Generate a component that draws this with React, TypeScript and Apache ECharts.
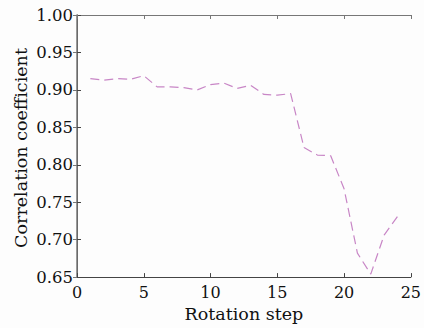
import React, { useEffect, useRef } from "react";
import * as echarts from "echarts";

const steps = [1, 2, 3, 4, 5, 6, 7, 8, 9, 10, 11, 12, 13, 14, 15, 16, 17, 18, 19, 20, 21, 22, 23, 24];
const corr = [0.915, 0.913, 0.915, 0.914, 0.919, 0.904, 0.904, 0.903, 0.9, 0.907, 0.909, 0.902, 0.906, 0.894, 0.893, 0.895, 0.823, 0.813, 0.812, 0.768, 0.682, 0.654, 0.706, 0.731];
const xName = "Rotation step";
const yName = "Correlation coefficient";

const FONT = "DejaVu Serif";

export default function App() {
  const ref = useRef<HTMLDivElement>(null);
  useEffect(() => {
    const chart = echarts.init(ref.current!, null, { renderer: "svg" });
    const data = steps.map((s, i) => [s, corr[i]]);
    chart.setOption({
      animation: false,
      backgroundColor: "#fdfdfd",
      grid: { left: 77, right: 12, top: 15, bottom: 49 },
      graphic: [
        {
          type: "text",
          x: 21,
          y: 148,
          rotation: Math.PI / 2,
          style: {
            text: yName,
            fontFamily: FONT,
            fontSize: 17.5,
            fill: "#111",
            align: "center",
            verticalAlign: "middle",
          },
        },
      ],
      xAxis: [
        {
          type: "value",
          min: 0,
          max: 25,
          interval: 5,
          name: xName,
          nameLocation: "middle",
          nameGap: 26,
          nameTextStyle: { fontFamily: FONT, fontSize: 17.5, color: "#111" },
          axisLine: { show: true, lineStyle: { color: "#444", width: 1 } },
          axisTick: { show: true, inside: true, length: 4, lineStyle: { color: "#444" } },
          axisLabel: { fontFamily: FONT, fontSize: 16, color: "#111", margin: 7 },
          splitLine: { show: false },
        },
        {
          type: "value",
          position: "top",
          min: 0,
          max: 25,
          interval: 5,
          axisLine: { show: true, lineStyle: { color: "#777", width: 1 } },
          axisTick: { show: true, inside: true, length: 4, lineStyle: { color: "#777" } },
          axisLabel: { show: false },
          splitLine: { show: false },
        },
      ],
      yAxis: [
        {
          type: "value",
          min: 0.65,
          max: 1.0,
          interval: 0.05,
          axisLine: { show: true, lineStyle: { color: "#444", width: 1 } },
          axisTick: { show: true, inside: true, length: 4, lineStyle: { color: "#444" } },
          axisLabel: {
            fontFamily: FONT,
            fontSize: 16.5,
            color: "#111",
            margin: 4,
            formatter: (v: number) => v.toFixed(2),
          },
          splitLine: { show: false },
        },
        {
          type: "value",
          position: "right",
          min: 0.65,
          max: 1.0,
          interval: 0.05,
          axisLine: { show: true, lineStyle: { color: "#777", width: 1.5 } },
          axisTick: { show: true, inside: true, length: 4, lineStyle: { color: "#777" } },
          axisLabel: { show: false },
          splitLine: { show: false },
        },
      ],
      series: [
        {
          type: "line",
          data,
          xAxisIndex: 0,
          yAxisIndex: 0,
          showSymbol: false,
          symbol: "none",
          lineStyle: { color: "#c886c6", width: 1.2, type: [9, 5] },
        },
      ],
    });
    return () => chart.dispose();
  }, []);
  return <div ref={ref} style={{ width: 424, height: 328, position: "absolute", left: 0, top: 0 }} />;
}
